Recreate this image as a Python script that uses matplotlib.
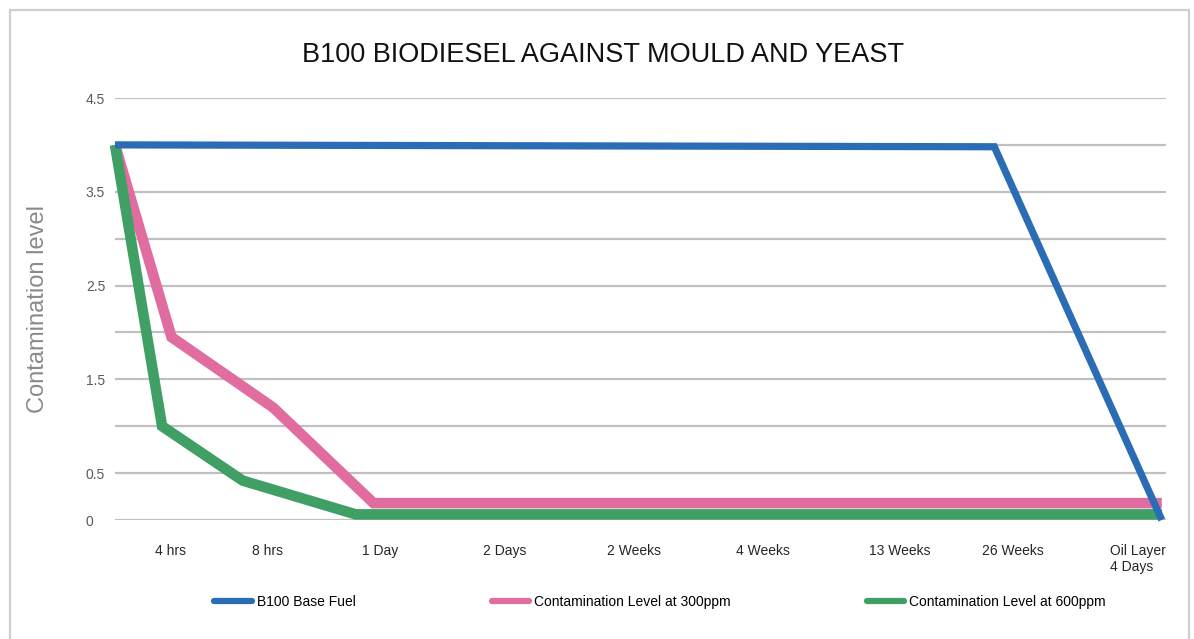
import matplotlib.pyplot as plt
from matplotlib.patches import Rectangle
from matplotlib.lines import Line2D

plt.rcParams['font.family'] = ['Liberation Sans', 'DejaVu Sans']

# x is an arbitrary position scale along the category axis (0 = start, 10 = oil layer)
labels = ['4 hrs', '8 hrs', '1 Day', '2 Days', '2 Weeks', '4 Weeks',
          '13 Weeks', '26 Weeks', 'Oil Layer\n4 Days']
label_x = [0.53, 1.46, 2.53, 3.72, 4.96, 6.19, 7.50, 8.58, 9.77]

base_x = [0, 8.40, 10]
base_y = [4.0, 3.98, 0.0]

ppm300_x = [0, 0.54, 1.51, 2.47, 10]
ppm300_y = [4.0, 1.95, 1.2, 0.18, 0.18]

ppm600_x = [0, 0.45, 1.22, 2.30, 10]
ppm600_y = [4.0, 1.0, 0.42, 0.06, 0.06]

series = ['B100 Base Fuel', 'Contamination Level at 300ppm',
          'Contamination Level at 600ppm']
colors = ['#2a6db5', '#e06ca0', '#3f9f65']

fig = plt.figure(figsize=(11.94, 6.39), dpi=100)
ax = fig.add_axes([115/1194, 1-520/639, (1166-115)/1194, (520-98)/639])

# outer chart frame
fig.patches.append(Rectangle((10/1194, -0.05), 1179/1194, 1.05 - 10/639,
                             transform=fig.transFigure, fill=False,
                             edgecolor='#cfcfcf', linewidth=1.6))

kw = dict(solid_joinstyle='miter', solid_capstyle='butt', clip_on=False)
ax.plot(base_x, base_y, color=colors[0], lw=5.2, zorder=3, **kw)
ax.plot(ppm300_x, ppm300_y, color=colors[1], lw=7.6, zorder=2, **kw)
ax.plot(ppm600_x, ppm600_y, color=colors[2], lw=7.6, zorder=2, **kw)

ax.set_xlim(0, 10.04)
ax.set_ylim(0, 4.5)
ax.set_yticks([0, 0.5, 1, 1.5, 2, 2.5, 3, 3.5, 4, 4.5])
ax.set_yticklabels(['0', '0.5', '', '1.5', '', '2.5', '', '3.5', '', '4.5'],
                   ha='left')
ax.set_xticks(label_x)
ax.set_xticklabels(labels, multialignment='left')
ax.tick_params(axis='y', length=0, pad=21, labelsize=10, labelcolor='#595959')
ax.tick_params(axis='x', length=0, pad=17, labelsize=10, labelcolor='#262626')
ax.grid(axis='y', color='#c0c0c0', linewidth=1.6)
ax.set_axisbelow(True)
for s in ax.spines.values():
    s.set_visible(False)

ax.set_ylabel('Contamination level', fontsize=17, color='#8a8a8a')
ax.yaxis.set_label_coords(-66/1051, 0.5)

fig.text(603/1194, 1-55/639, 'B100 BIODIESEL AGAINST MOULD AND YEAST',
         ha='center', va='center', fontsize=19.5, color='#111111')

handles = [Line2D([], [], color=c, lw=4.5, solid_capstyle='round')
           for c in colors]
fig.legend(handles, series, loc='center', bbox_to_anchor=(660/1194, 1-602/639),
           ncol=3, frameon=False, fontsize=10, handlelength=2.7,
           handletextpad=0.35, columnspacing=9.8)

fig.savefig('out.png', dpi=100)
